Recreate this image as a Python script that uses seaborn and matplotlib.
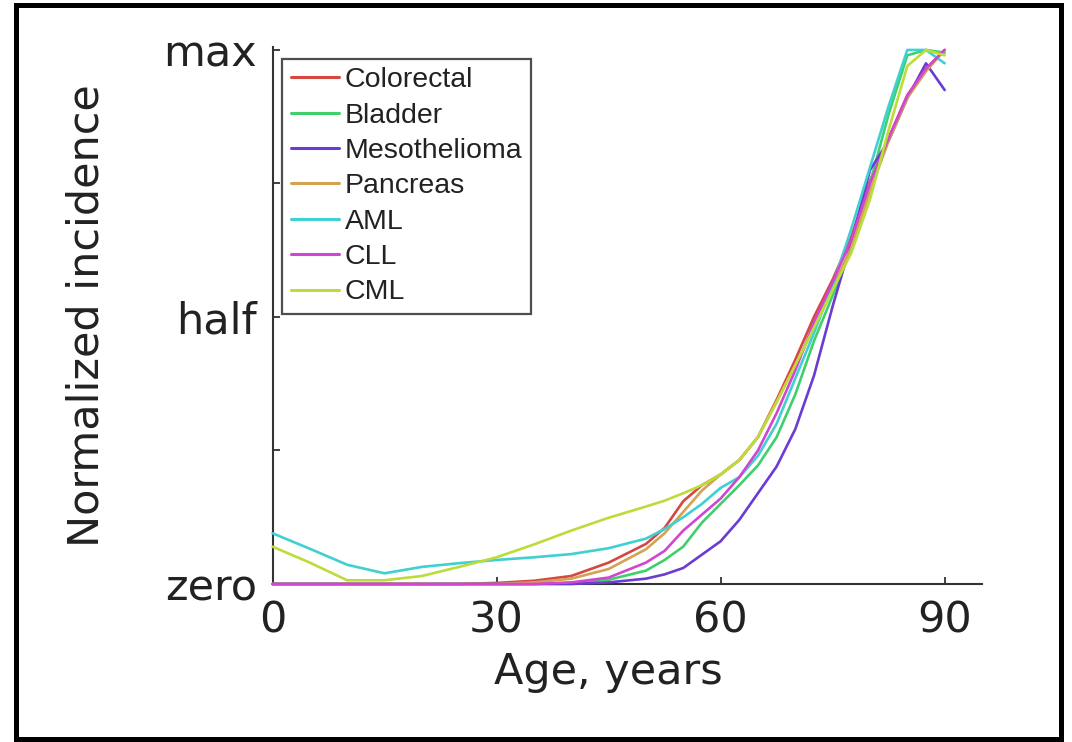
import matplotlib
matplotlib.use("Agg")
import matplotlib.pyplot as plt
import seaborn as sns
import pandas as pd
from matplotlib.patches import Rectangle

# ---------------- data ----------------
ages = [0, 5, 10, 15, 20, 25, 30, 35, 40, 45, 50, 52.5, 55, 57.5, 60, 62.5,
        65, 67.5, 70, 72.5, 75, 77.5, 80, 82.5, 85, 87.5, 90]

colorectal = [0, 0, 0, 0, 0, 0, 0.002, 0.006, 0.015, 0.04, 0.075, 0.105, 0.155, 0.185,
              0.205, 0.232, 0.275, 0.345, 0.42, 0.50, 0.57, 0.65, 0.755, 0.835, 0.915, 0.965, 1.0]
bladder = [0, 0, 0, 0, 0, 0, 0, 0, 0.002, 0.008, 0.025, 0.045, 0.07, 0.115,
           0.15, 0.185, 0.222, 0.275, 0.355, 0.455, 0.54, 0.63, 0.75, 0.88, 0.99, 1.0, 0.995]
mesothelioma = [0, 0, 0, 0, 0, 0, 0, 0, 0, 0.003, 0.01, 0.018, 0.03, 0.055,
                0.08, 0.12, 0.17, 0.22, 0.29, 0.39, 0.52, 0.64, 0.775, 0.83, 0.91, 0.975, 0.925]
pancreas = [0, 0, 0, 0, 0, 0, 0, 0.003, 0.01, 0.028, 0.065, 0.095, 0.135, 0.175,
            0.205, 0.232, 0.275, 0.342, 0.41, 0.48, 0.555, 0.63, 0.735, 0.83, 0.91, 0.96, 1.0]
aml = [0.095, 0.066, 0.036, 0.02, 0.032, 0.039, 0.045, 0.05, 0.056, 0.067, 0.085, 0.103, 0.125, 0.15,
       0.18, 0.20, 0.24, 0.30, 0.385, 0.47, 0.56, 0.665, 0.78, 0.895, 1.0, 1.0, 0.975]
cll = [0, 0, 0, 0, 0, 0, 0, 0, 0.003, 0.012, 0.04, 0.062, 0.10, 0.13,
       0.16, 0.20, 0.25, 0.32, 0.40, 0.49, 0.565, 0.645, 0.75, 0.835, 0.915, 0.965, 1.0]
cml = [0.07, 0.04, 0.007, 0.007, 0.015, 0.032, 0.05, 0.074, 0.10, 0.124, 0.145, 0.156, 0.17, 0.185,
       0.205, 0.232, 0.275, 0.34, 0.41, 0.48, 0.55, 0.62, 0.72, 0.85, 0.97, 1.0, 0.99]

cancers = ["Colorectal", "Bladder", "Mesothelioma", "Pancreas", "AML", "CLL", "CML"]
series = [colorectal, bladder, mesothelioma, pancreas, aml, cll, cml]
colors = ["#d6473f", "#3fd06b", "#6a3cd2", "#d4a253", "#40d0d2", "#d046d0", "#bcdc3a"]

x_ticks = [0, 30, 60, 90]
y_ticks = [0, 0.25, 0.5, 0.75, 1.0]
y_tick_labels = ["zero", "", "half", "", "max"]

# ---------------- long table ----------------
rows = []
for name, vals in zip(cancers, series):
    for a, v in zip(ages, vals):
        rows.append({"age": a, "incidence": v, "cancer": name})
df = pd.DataFrame(rows)

sns.set_theme(style="white")
plt.rcParams["font.family"] = ["DejaVu Sans"]

W, H = 1072, 742
fig = plt.figure(figsize=(W / 100, H / 100), dpi=100)
fig.patch.set_facecolor("white")

ax_l, ax_r = 272.5, 982.0
ax_t, ax_b = 47.3, 584.0
ax = fig.add_axes([ax_l / W, 1 - ax_b / H, (ax_r - ax_l) / W, (ax_b - ax_t) / H])

palette = dict(zip(cancers, colors))
sns.lineplot(data=df, x="age", y="incidence", hue="cancer", hue_order=cancers,
             palette=palette, estimator=None, sort=False, linewidth=1.9,
             ax=ax, legend=False)
for ln in ax.lines:
    ln.set_clip_on(False)
    ln.set_zorder(3)

ax.set_xlim(0, 95)
ax.set_ylim(0, 1.005)

for s in ["top", "right"]:
    ax.spines[s].set_visible(False)
for s in ["left", "bottom"]:
    ax.spines[s].set_color("#333333")
    ax.spines[s].set_linewidth(1.5)

ax.set_xticks(x_ticks)
ax.set_xticklabels([str(t) for t in x_ticks])
ax.set_yticks(y_ticks)
ax.set_yticklabels(y_tick_labels)
ax.tick_params(axis="both", which="major", direction="in", length=5, width=1.3,
               color="#333333", labelsize=31, labelcolor="#222222", pad=11,
               bottom=True, left=True, top=False, right=False)

ax.set_xlabel("Age, years", fontsize=31, color="#222222")
ax.xaxis.set_label_coords(45 / 95, -0.125)
ax.set_ylabel("Normalized incidence", fontsize=31, color="#222222")
ax.yaxis.set_label_coords(-0.232, 0.5)

handles = [plt.Line2D([], [], color=c, lw=2.2) for c in colors]
leg = ax.legend(handles, cancers, loc="upper left", bbox_to_anchor=(0.0135, 0.979),
                borderaxespad=0, frameon=True, fancybox=False, edgecolor="#222222",
                prop={"family": "Liberation Sans", "size": 20.5},
                handlelength=1.7, handletextpad=0.2, labelspacing=0.33,
                borderpad=0.3)
leg.get_frame().set_linewidth(1.6)
for t in leg.get_texts():
    t.set_color("#222222")

# black outer frame
fig.patches.append(Rectangle((16 / W, 1 - 738.5 / H), (1061 - 16) / W, (738.5 - 4.5) / H,
                             transform=fig.transFigure, fill=False, edgecolor="black",
                             linewidth=3.6, zorder=10))

fig.savefig("out.png", dpi=100)
